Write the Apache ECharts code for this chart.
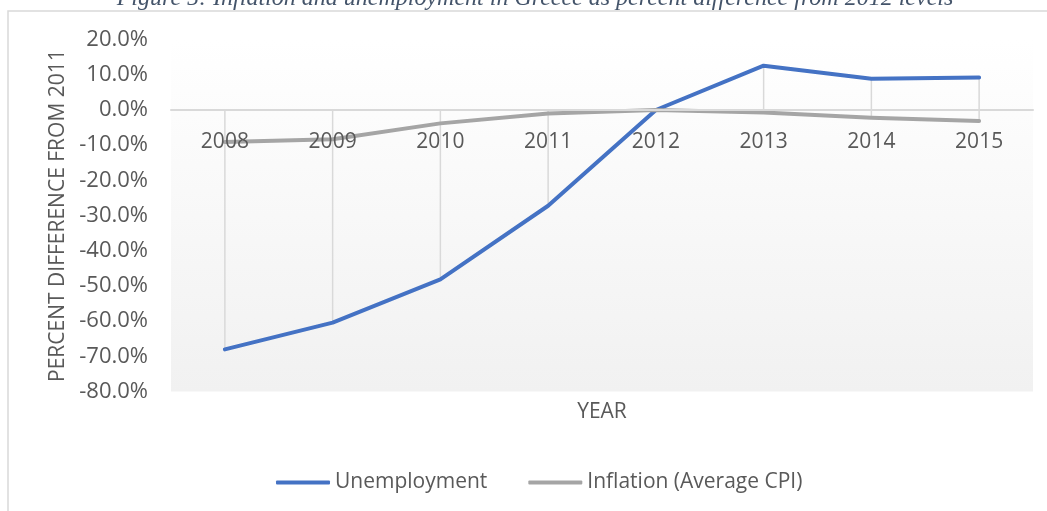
<!DOCTYPE html>
<html>
<head>
<meta charset="utf-8">
<script src="https://cdn.jsdelivr.net/npm/echarts@6/dist/echarts.min.js"></script>
<style>
  html, body { margin: 0; padding: 0; background: #ffffff; }
  #chart { width: 1047px; height: 511px; }
</style>
</head>
<body>
<div id="chart"></div>
<script>
// Years on the category axis
const years = ['2008', '2009', '2010', '2011', '2012', '2013', '2014', '2015'];
// Percent difference from the 2012 level
const unemployment = [-68.0, -60.4, -48.1, -27.2, 0.0, 12.6, 8.9, 9.2];
const inflation = [-9.1, -8.3, -3.8, -1.0, 0.0, -0.7, -2.2, -3.1];
// Value axis range and step
const yMin = -80, yMax = 20, yStep = 10;

const FONT = 'Open Sans';
const TEXT = '#595959';

// Plot box in pixels
const gridTop = 39.6, gridBottom = 119.4, chartH = 511;
const plotH = chartH - gridTop - gridBottom;
// Lift the category axis from the plot bottom to the zero line
const zeroOffset = -plotH * (0 - yMin) / (yMax - yMin);

// Vertical drop lines spanning every series value and the zero line per year
const dropData = years.map((y, i) => {
  const vals = [0, unemployment[i], inflation[i]];
  return [i, Math.min.apply(null, vals), Math.max.apply(null, vals)];
});

const chart = echarts.init(document.getElementById('chart'), null, { renderer: 'canvas' });

chart.setOption({
  animation: false,
  textStyle: { fontFamily: FONT },
  graphic: [
    {
      type: 'rect', z: 0, silent: true,
      shape: { x: 8, y: 11, width: 1200, height: 700 },
      style: { fill: 'none', stroke: '#d9d9d9', lineWidth: 1.5 }
    },
    {
      type: 'text', z: 10, silent: true,
      x: 535, y: 11,
      style: {
        text: 'Figure 5: Inflation and unemployment in Greece as percent difference from 2012 levels',
        fill: '#44546A',
        font: 'italic 24px "Liberation Serif", "Times New Roman", serif',
        textAlign: 'center',
        textVerticalAlign: 'bottom'
      }
    },
    {
      type: 'text', z: 10, silent: true,
      x: 602, y: 412,
      style: {
        text: 'YEAR',
        fill: TEXT,
        font: '21px "Open Sans"',
        textAlign: 'center',
        textVerticalAlign: 'middle'
      }
    }
  ],
  grid: {
    left: 171, right: 14, top: gridTop, bottom: gridBottom,
    show: true, borderWidth: 0,
    backgroundColor: {
      type: 'linear', x: 0, y: 0, x2: 0, y2: 1,
      colorStops: [
        { offset: 0, color: '#ffffff' },
        { offset: 1, color: '#f1f1f1' }
      ]
    }
  },
  legend: {
    left: 276, top: 472, padding: 0,
    itemWidth: 54, itemHeight: 4, itemGap: 41,
    icon: 'roundRect',
    textStyle: { color: TEXT, fontSize: 21, fontFamily: FONT },
    data: ['Unemployment', 'Inflation (Average CPI)']
  },
  xAxis: {
    type: 'category',
    data: years,
    boundaryGap: true,
    position: 'bottom',
    offset: zeroOffset,
    z: 5,
    axisLine: { onZero: false, lineStyle: { color: '#d9d9d9', width: 2 } },
    axisTick: { show: false },
    axisLabel: { color: TEXT, fontSize: 21, margin: 22, fontFamily: FONT },
    splitLine: { show: false }
  },
  yAxis: {
    type: 'value',
    min: yMin, max: yMax, interval: yStep,
    axisLine: { show: false },
    axisTick: { show: false },
    splitLine: { show: false },
    axisLabel: {
      color: TEXT, fontSize: 22, margin: 23, fontFamily: FONT,
      formatter: v => v.toFixed(1) + '%'
    },
    name: 'PERCENT DIFFERENCE FROM 2011',
    nameLocation: 'middle',
    nameGap: 102,
    nameTextStyle: { color: TEXT, fontSize: 21, fontFamily: FONT }
  },
  series: [
    {
      type: 'custom',
      name: 'drop',
      silent: true,
      z: 1,
      data: dropData,
      renderItem: (params, api) => {
        const lo = api.coord([api.value(0), api.value(1)]);
        const hi = api.coord([api.value(0), api.value(2)]);
        return {
          type: 'line',
          shape: { x1: lo[0], y1: lo[1], x2: hi[0], y2: hi[1] },
          style: { stroke: '#d9d9d9', lineWidth: 1.5 }
        };
      }
    },
    {
      type: 'line',
      name: 'Unemployment',
      data: unemployment,
      symbol: 'none',
      z: 3,
      color: '#4472C4',
      lineStyle: { color: '#4472C4', width: 4, cap: 'round', join: 'round' }
    },
    {
      type: 'line',
      name: 'Inflation (Average CPI)',
      data: inflation,
      symbol: 'none',
      z: 4,
      color: '#A5A5A5',
      lineStyle: { color: '#A5A5A5', width: 4, cap: 'round', join: 'round' }
    }
  ]
});
</script>
</body>
</html>
